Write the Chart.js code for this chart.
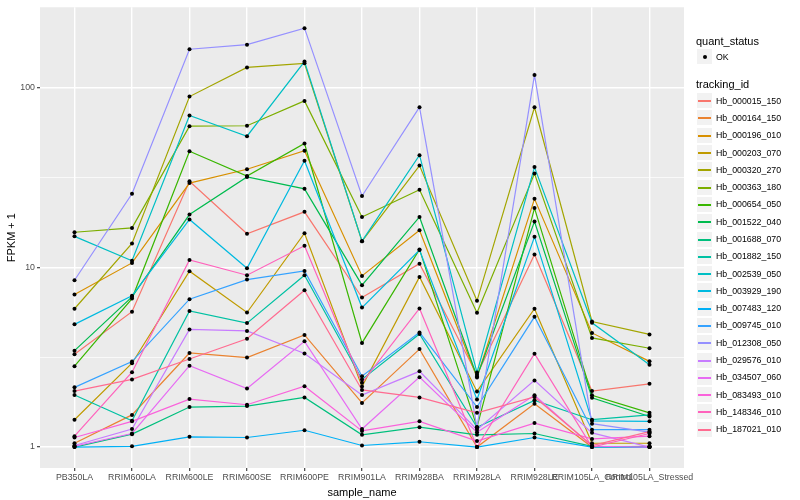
<!DOCTYPE html>
<html>
<head>
<meta charset="utf-8">
<script src="https://cdn.jsdelivr.net/npm/chart.js@4.4.1/dist/chart.umd.min.js"></script>
<style>
html,body{margin:0;padding:0;background:#ffffff;}
#wrap{position:relative;width:800px;height:500px;font-family:"Liberation Sans",Arial,Helvetica,sans-serif;overflow:hidden;}
#c{position:absolute;left:0;top:0;}
.lg{position:absolute;white-space:nowrap;color:#000000;}
.ttl{font-size:11px;line-height:14px;height:14px;}
.itm{font-size:8.8px;line-height:12px;height:12px;}
.key{position:absolute;width:17px;height:17px;background:#F2F2F2;box-sizing:border-box;border:1px solid #ffffff;}
.kline{position:absolute;left:1px;right:1px;top:6.5px;height:2px;}
.kdot{position:absolute;left:5.5px;top:5.5px;width:4px;height:4px;border-radius:50%;background:#000;}
</style>
</head>
<body>
<div id="wrap">
<canvas id="c" width="800" height="500"></canvas>
<div id="legend"></div>
</div>
<script>
// ---------- data ----------
const samples = ["PB350LA","RRIM600LA","RRIM600LE","RRIM600SE","RRIM600PE","RRIM901LA","RRIM928BA","RRIM928LA","RRIM928LE","RRIM105LA_Control","RRIM105LA_Stressed"];

const trackingIds = ["Hb_000015_150","Hb_000164_150","Hb_000196_010","Hb_000203_070","Hb_000320_270","Hb_000363_180","Hb_000654_050","Hb_001522_040","Hb_001688_070","Hb_001882_150","Hb_002539_050","Hb_003929_190","Hb_007483_120","Hb_009745_010","Hb_012308_050","Hb_029576_010","Hb_034507_060","Hb_083493_010","Hb_148346_010","Hb_187021_010"];

const seriesColors = ["#F8766D","#EA8331","#D89000","#C09B00","#A3A500","#7CAE00","#39B600","#00BB4E","#00BF7D","#00C1A3","#00BFC4","#00BAE0","#00B0F6","#35A2FF","#9590FF","#C77CFF","#E76BF3","#FA62DB","#FF62BC","#FF6C91"];

const quantStatus = ["OK"];

// FPKM + 1 per sample (order of `samples`)
const Hb_000015_150 = [3.29, 5.67, 30.2, 15.4, 20.4, 6.80, 10.5, 2.53, 11.8, 2.05, 2.25];
const Hb_000164_150 = [1.05, 1.51, 3.34, 3.15, 4.21, 1.76, 3.51, 1.00, 1.74, 1.00, 1.01];
const Hb_000196_010 = [7.07, 10.6, 29.5, 35.2, 44.7, 8.97, 16.1, 2.44, 24.1, 4.32, 3.00];
const Hb_000203_070 = [1.42, 2.93, 9.53, 5.61, 15.5, 2.17, 8.86, 2.04, 5.89, 1.05, 1.05];
const Hb_000320_270 = [5.89, 13.6, 89.4, 130, 137, 14.0, 36.9, 6.52, 78.0, 5.00, 4.24];
const Hb_000363_180 = [15.7, 16.6, 61.2, 61.5, 84.6, 19.1, 27.1, 5.59, 33.3, 4.05, 3.55];
const Hb_000654_050 = [2.82, 6.71, 44.4, 32.3, 49.0, 3.80, 12.6, 1.29, 21.4, 1.94, 1.55];
const Hb_001522_040 = [3.44, 6.86, 19.7, 31.9, 27.4, 7.97, 19.1, 2.47, 18.0, 1.88, 1.48];
const Hb_001688_070 = [1.00, 1.18, 1.67, 1.69, 1.89, 1.17, 1.29, 1.17, 1.19, 1.01, 1.00];
const Hb_001882_150 = [1.95, 1.40, 5.72, 4.90, 9.05, 2.38, 4.26, 1.29, 1.82, 1.42, 1.51];
const Hb_002539_050 = [14.9, 10.9, 70.1, 53.8, 140, 14.0, 42.2, 2.60, 36.2, 4.92, 2.87];
const Hb_003929_190 = [4.82, 6.95, 18.5, 9.90, 39.3, 5.98, 12.5, 1.84, 14.8, 1.40, 1.39];
const Hb_007483_120 = [1.00, 1.01, 1.14, 1.13, 1.24, 1.02, 1.07, 1.00, 1.13, 1.00, 1.00];
const Hb_009745_010 = [2.15, 2.99, 6.66, 8.56, 9.56, 2.48, 4.35, 1.67, 5.31, 1.25, 1.25];
const Hb_012308_050 = [8.49, 25.7, 164, 174, 215, 25.0, 78.0, 1.29, 118, 1.35, 1.21];
const Hb_029576_010 = [1.02, 1.26, 4.52, 4.43, 3.32, 1.95, 2.64, 1.25, 2.35, 1.20, 1.00];
const Hb_034507_060 = [1.01, 1.19, 2.84, 2.12, 3.88, 1.26, 2.45, 1.21, 1.94, 1.01, 1.00];
const Hb_083493_010 = [1.13, 1.39, 1.85, 1.72, 2.18, 1.23, 1.39, 1.08, 1.36, 1.11, 1.15];
const Hb_148346_010 = [1.15, 2.61, 11.0, 9.05, 13.2, 2.28, 5.91, 1.00, 3.31, 1.00, 1.19];
const Hb_187021_010 = [2.05, 2.38, 3.09, 4.01, 7.47, 2.08, 1.89, 1.55, 1.90, 1.02, 1.22];

const seriesValues = [Hb_000015_150, Hb_000164_150, Hb_000196_010, Hb_000203_070, Hb_000320_270, Hb_000363_180, Hb_000654_050, Hb_001522_040, Hb_001688_070, Hb_001882_150, Hb_002539_050, Hb_003929_190, Hb_007483_120, Hb_009745_010, Hb_012308_050, Hb_029576_010, Hb_034507_060, Hb_083493_010, Hb_148346_010, Hb_187021_010];

const yMajorTicks = [1, 10, 100];
const yMinorTicks = [3.16228, 31.6228];

// ---------- chart ----------
const FONT = '"Liberation Sans", Arial, Helvetica, sans-serif';
function isMajor(v){ const l = Math.log10(v); return Math.abs(l - Math.round(l)) < 1e-6; }

const datasets = trackingIds.map((id, i) => ({
  label: id,
  data: seriesValues[i].map((v, j) => ({x: j, y: v})),
  borderColor: seriesColors[i],
  backgroundColor: seriesColors[i],
  borderWidth: 1.2,
  pointRadius: 0,
  fill: false,
  tension: 0,
  order: trackingIds.length - i
}));
datasets.push({
  label: quantStatus[0],
  type: 'scatter',
  data: seriesValues.flatMap(vals => vals.map((v, j) => ({x: j, y: v}))),
  pointRadius: 2,
  pointBackgroundColor: '#000000',
  pointBorderColor: '#000000',
  pointBorderWidth: 0,
  showLine: false,
  order: 0
});

const panelBg = {
  id: 'panelBg',
  beforeDraw(chart){
    const {ctx, chartArea: a} = chart;
    ctx.save();
    ctx.fillStyle = '#EBEBEB';
    ctx.fillRect(a.left, a.top, a.right - a.left, a.bottom - a.top);
    ctx.restore();
  }
};

new Chart(document.getElementById('c'), {
  type: 'line',
  data: { datasets },
  plugins: [panelBg],
  options: {
    responsive: false,
    animation: false,
    events: [],
    layout: { padding: { top: 5, right: 116, bottom: 0, left: 0 } },
    plugins: { legend: { display: false }, tooltip: { enabled: false } },
    scales: {
      x: {
        type: 'linear',
        min: -0.6,
        max: samples.length - 1 + 0.6,
        afterBuildTicks: s => { s.ticks = samples.map((_, i) => ({ value: i })); },
        afterFit: s => { s.height = 32; },
        ticks: {
          autoSkip: false, maxRotation: 0, minRotation: 0, padding: 1,
          color: '#4D4D4D', font: { family: FONT, size: 8.8 },
          callback: v => samples[v]
        },
        grid: { color: '#FFFFFF', lineWidth: 1.4, tickLength: 3, tickColor: '#333333', tickWidth: 1.1 },
        border: { display: false },
        title: { display: true, text: 'sample_name', color: '#000000', font: { family: FONT, size: 11 }, padding: { top: 5.4, bottom: 0 } }
      },
      y: {
        type: 'logarithmic',
        min: 0.7645,
        max: 280.9,
        afterBuildTicks: s => { s.ticks = [...yMajorTicks, ...yMinorTicks].sort((a, b) => a - b).map(v => ({ value: v })); },
        afterFit: s => { s.width = 40; },
        ticks: {
          autoSkip: false, padding: 2,
          color: '#4D4D4D', font: { family: FONT, size: 8.8 },
          callback: v => isMajor(v) ? String(Math.round(v)) : ''
        },
        grid: {
          color: '#FFFFFF',
          lineWidth: c => (c.tick && isMajor(c.tick.value)) ? 1.4 : 0.7,
          tickLength: 3,
          tickWidth: 1.1,
          tickColor: c => (c.tick && isMajor(c.tick.value)) ? '#333333' : 'rgba(0,0,0,0)'
        },
        border: { display: false },
        title: { display: true, text: 'FPKM + 1', color: '#000000', font: { family: FONT, size: 11 }, padding: { top: 5.5, bottom: 0 } }
      }
    }
  }
});

// ---------- legend (HTML) ----------
const lg = document.getElementById('legend');
function addText(txt, cls, left, cy, h){
  const d = document.createElement('div');
  d.className = 'lg ' + cls;
  d.textContent = txt;
  d.style.left = left + 'px';
  d.style.top = Math.round(cy - h / 2) + 'px';
  lg.appendChild(d);
}
function addKey(cy, inner){
  const k = document.createElement('div');
  k.className = 'key';
  k.style.left = '696px';
  k.style.top = Math.round(cy - 8.5) + 'px';
  k.appendChild(inner);
  lg.appendChild(k);
}
addText('quant_status', 'ttl', 696, 40.7, 14);
{ const dot = document.createElement('div'); dot.className = 'kdot'; addKey(56.7, dot); }
addText(quantStatus[0], 'itm', 716, 56.7, 12);
addText('tracking_id', 'ttl', 696, 84, 14);
trackingIds.forEach((id, i) => {
  const cy = 100.7 + i * 17.29;
  const ln = document.createElement('div');
  ln.className = 'kline';
  ln.style.background = seriesColors[i];
  addKey(cy, ln);
  addText(id, 'itm', 716, cy, 12);
});
</script>
</body>
</html>
